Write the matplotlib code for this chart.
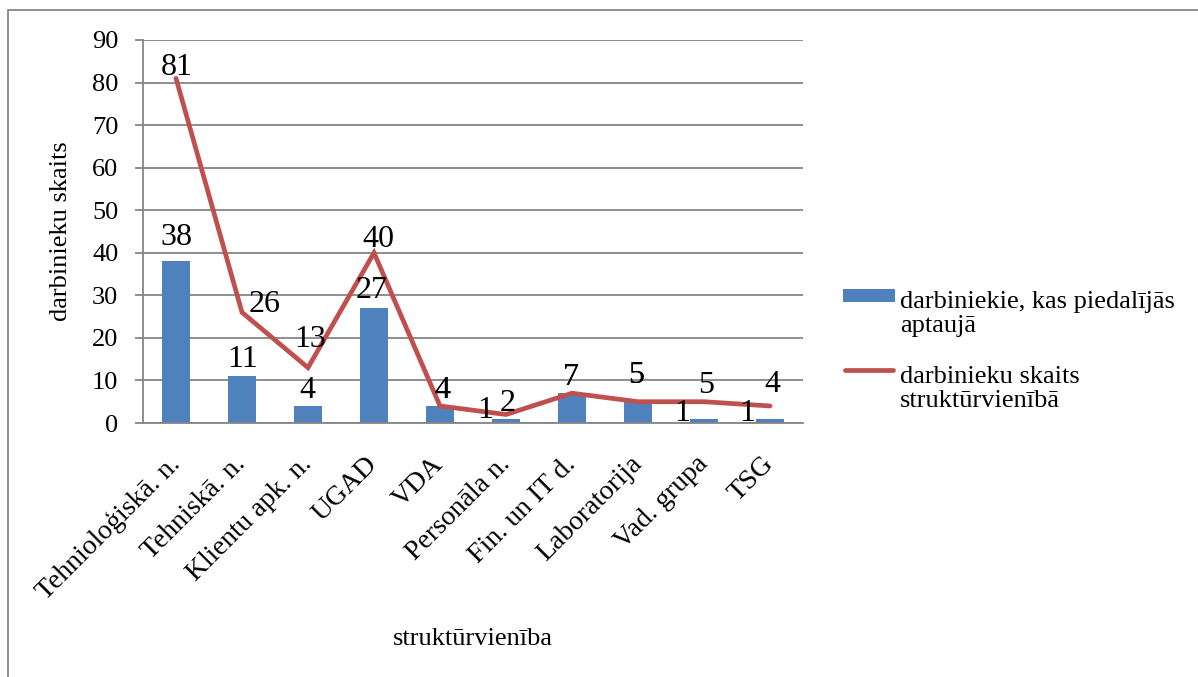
import matplotlib
matplotlib.use("Agg")
import matplotlib.pyplot as plt
from matplotlib.patches import Rectangle
from matplotlib.lines import Line2D
import numpy as np

plt.rcParams['font.family'] = ['Liberation Serif', 'DejaVu Serif']

categories = ["Tehnioloģiskā. n.", "Tehniskā. n.", "Klientu apk. n.", "UGAD", "VDA",
              "Personāla n.", "Fin. un IT d.", "Laboratorija", "Vad. grupa", "TSG"]
participants = [38, 11, 4, 27, 4, 1, 7, 5, 1, 1]
staff_total = [81, 26, 13, 40, 4, 2, 7, 5, 5, 4]
bar_name = "darbiniekie, kas piedalījās\naptaujā"
line_name = "darbinieku skaits\nstruktūrvienībā"
yticks = [0, 10, 20, 30, 40, 50, 60, 70, 80, 90]

# label offsets in pixels (styling only)
bar_lbl_off = [(0, 16), (1, 9), (-1, 8), (-2, 10), (2, 8), (-21, 1), (-1, 8), (-2, 19), (-22, -2), (-23, -2)]
line_lbl_off = [(1, 3), (23, 0), (2, 21), (4, 6), (2, 8), (2, 3), (-1, 8), (-2, 19), (2, 9), (2, 14)]

W, H = 1198, 677
fig = plt.figure(figsize=(W / 100, H / 100), dpi=100)
ax = fig.add_axes([143 / W, 1 - 423 / H, 660 / W, 383 / H])

bar_c = '#4F81BD'
line_c = '#C0504D'
grid_c = '#868686'
x = np.arange(len(categories))
ax.bar(x, participants, width=0.41, color=bar_c, zorder=2, label=bar_name)
ax.plot(x, staff_total, color=line_c, lw=3.4, zorder=3, solid_capstyle='round',
        solid_joinstyle='miter', label=line_name)

ax.set_xlim(-0.5, len(categories) - 0.5)
ax.set_ylim(0, 90)
ax.set_yticks(yticks)
ax.yaxis.grid(True, color=grid_c, lw=1.3)
ax.set_axisbelow(True)
for s in ['top', 'right']:
    ax.spines[s].set_visible(False)
for s in ['left', 'bottom']:
    ax.spines[s].set_color(grid_c)
    ax.spines[s].set_linewidth(1.3)
ax.tick_params(axis='y', direction='out', length=5.8, width=1.3, color=grid_c, labelsize=19, pad=12)
ax.tick_params(axis='x', length=0, labelsize=20, pad=27)
ax.set_xticks(x)
ax.set_xticklabels(categories, rotation=45, ha='right', va='center', rotation_mode='anchor')

for xi, v, (dx, dy) in zip(x, participants, bar_lbl_off):
    ax.annotate(str(v), (xi, v), xytext=(dx, dy), textcoords='offset pixels',
                ha='center', va='baseline', fontsize=23, zorder=5)
for xi, v, (dx, dy) in zip(x, staff_total, line_lbl_off):
    ax.annotate(str(v), (xi, v), xytext=(dx, dy), textcoords='offset pixels',
                ha='center', va='baseline', fontsize=23, zorder=5)

ax.set_ylabel("darbinieku skaits", fontsize=19)
ax.yaxis.label.set_va('baseline')
ax.yaxis.set_label_coords((67 - 143) / 660, 0.5)
ax.set_xlabel("struktūrvienība", fontsize=19)
ax.xaxis.label.set_va('baseline')
ax.xaxis.set_label_coords(0.5, (423 - 645) / 383)

# legend (drawn to match the reference layout: handle aligned with first text line)
def fx(px):
    return px / W

def fy(py):
    return 1 - py / H

fig.patches.append(Rectangle((fx(843), fy(302)), fx(895) - fx(843), fy(289) - fy(302),
                             transform=fig.transFigure, facecolor=bar_c, edgecolor='none'))
fig.lines.append(Line2D([fx(845), fx(893)], [fy(370), fy(370)], transform=fig.transFigure,
                        color=line_c, lw=3.4, solid_capstyle='round'))
fig.text(fx(900), fy(332), bar_name, ha='left', va='baseline', fontsize=19, linespacing=1.12)
fig.text(fx(900), fy(407), line_name, ha='left', va='baseline', fontsize=19, linespacing=1.12)

fig.patches.append(Rectangle((8 / W, -0.1), 1.2, (1 - 10 / H) + 0.1, transform=fig.transFigure,
                             fill=False, edgecolor=grid_c, lw=1.3))

fig.savefig("out.png", dpi=100)
